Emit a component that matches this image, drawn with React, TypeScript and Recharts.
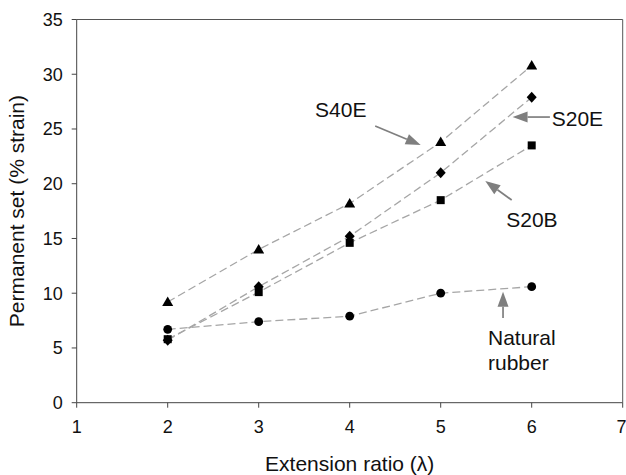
import React from "react";
import {
  LineChart,
  Line,
  XAxis,
  YAxis,
  ReferenceLine,
  ReferenceDot,
} from "recharts";

// Extension ratio (λ) at each test point
const lambda = [2, 3, 4, 5, 6];

// Permanent set (% strain) per compound
const s40e = [9.2, 14.0, 18.2, 23.8, 30.8];
const s20e = [5.7, 10.6, 15.2, 21.0, 27.9];
const s20b = [5.8, 10.1, 14.6, 18.5, 23.5];
const naturalRubber = [6.7, 7.4, 7.9, 10.0, 10.6];

const xTicks = [1, 2, 3, 4, 5, 6, 7];
const yTicks = [0, 5, 10, 15, 20, 25, 30, 35];

const data = lambda.map((l, i) => ({
  lambda: l,
  s40e: s40e[i],
  s20e: s20e[i],
  s20b: s20b[i],
  nr: naturalRubber[i],
}));

const FONT = "Liberation Sans, Arial, sans-serif";
const LINE_COLOR = "#a6a6a6";
const ARROW_COLOR = "#7f7f7f";

type Shape = "triangle" | "diamond" | "square" | "circle";

const makeDot = (shape: Shape) => (props: any) => {
  const { cx, cy, index } = props;
  if (cx == null || cy == null) return <g key={index} />;
  const k = `${shape}-${index}`;
  switch (shape) {
    case "triangle":
      return (
        <polygon
          key={k}
          points={`${cx},${cy - 5.5} ${cx + 5.5},${cy + 4} ${cx - 5.5},${cy + 4}`}
          fill="#000"
        />
      );
    case "diamond":
      return (
        <polygon
          key={k}
          points={`${cx},${cy - 5.5} ${cx + 5},${cy} ${cx},${cy + 5.5} ${cx - 5},${cy}`}
          fill="#000"
        />
      );
    case "square":
      return <rect key={k} x={cx - 4} y={cy - 4} width={8} height={8} fill="#000" />;
    default:
      return <circle key={k} cx={cx} cy={cy} r={4.4} fill="#000" />;
  }
};

// Grey annotation arrow: shaft plus a filled head at the segment end
const Arrow = (props: any) => {
  const { x1, y1, x2, y2 } = props;
  if ([x1, y1, x2, y2].some((v) => v == null || isNaN(v))) return null;
  const dx = x2 - x1;
  const dy = y2 - y1;
  const len = Math.sqrt(dx * dx + dy * dy) || 1;
  const ux = dx / len;
  const uy = dy / len;
  const headLen = 15;
  const headHalf = 5.5;
  const bx = x2 - ux * headLen;
  const by = y2 - uy * headLen;
  const px = -uy;
  const py = ux;
  return (
    <g>
      <line x1={x1} y1={y1} x2={bx} y2={by} stroke={ARROW_COLOR} strokeWidth={1.7} />
      <polygon
        points={`${x2},${y2} ${bx + px * headHalf},${by + py * headHalf} ${bx - px * headHalf},${by - py * headHalf}`}
        fill={ARROW_COLOR}
      />
    </g>
  );
};

const textShape = (lines: string[]) => (props: any) => {
  const { cx, cy } = props;
  if (cx == null || cy == null) return null;
  return (
    <text x={cx} y={cy} fontFamily={FONT} fontSize={21} fill="#111" textAnchor="start">
      {lines.map((t, i) => (
        <tspan key={i} x={cx} dy={i === 0 ? 0 : 25}>
          {t}
        </tspan>
      ))}
    </text>
  );
};

const annotations = [
  { text: ["S40E"], at: [3.62, 26.12], from: [4.28, 25.27], to: [4.78, 23.53] },
  { text: ["S20E"], at: [6.22, 25.27], from: [6.2, 26.09], to: [5.79, 26.09] },
  { text: ["S20B"], at: [5.72, 16.07], from: [5.78, 18.51], to: [5.49, 20.25] },
  { text: ["Natural", "rubber"], at: [5.52, 5.27], from: [5.685, 7.73], to: [5.685, 10.14] },
];

const series: { key: string; shape: Shape }[] = [
  { key: "nr", shape: "circle" },
  { key: "s20b", shape: "square" },
  { key: "s20e", shape: "diamond" },
  { key: "s40e", shape: "triangle" },
];

export default function App() {
  return (
    <div style={{ position: "absolute", left: 0, top: 0, background: "#fff" }}>
      <LineChart
        width={626}
        height={475}
        data={data}
        margin={{ top: 19.5, right: 3.3, left: 0, bottom: 27.3 }}
      >
        <XAxis
          dataKey="lambda"
          type="number"
          domain={[1, 7]}
          ticks={xTicks}
          allowDataOverflow
          stroke="#444"
          tickSize={5}
          tickMargin={13}
          height={45}
          tick={{ fontFamily: FONT, fontSize: 18, fill: "#111" }}
          label={{
            value: "Extension ratio (λ)",
            position: "insideBottom",
            offset: -23,
            style: { fontFamily: FONT, fontSize: 21, fill: "#111", textAnchor: "middle" },
          }}
        />
        <YAxis
          type="number"
          domain={[0, 35]}
          ticks={yTicks}
          allowDataOverflow
          stroke="#444"
          width={76.7}
          tickSize={5}
          tickMargin={9}
          tick={{ fontFamily: FONT, fontSize: 18, fill: "#111" }}
          label={{
            value: "Permanent set (% strain)",
            angle: -90,
            position: "insideLeft",
            offset: 17,
            style: { fontFamily: FONT, fontSize: 21, fill: "#111", textAnchor: "middle" },
          }}
        />
        <ReferenceLine y={35} stroke="#555" strokeWidth={1} />
        <ReferenceLine x={7} stroke="#555" strokeWidth={1} />
        {series.map((s) => (
          <Line
            key={s.key}
            dataKey={s.key}
            type="linear"
            stroke={LINE_COLOR}
            strokeWidth={1.3}
            strokeDasharray="8 4"
            dot={makeDot(s.shape)}
            activeDot={false}
            isAnimationActive={false}
          />
        ))}
        {annotations.map((a, i) => (
          <ReferenceLine
            key={`arrow-${i}`}
            segment={[
              { x: a.from[0], y: a.from[1] },
              { x: a.to[0], y: a.to[1] },
            ]}
            shape={Arrow}
            ifOverflow="visible"
          />
        ))}
        {annotations.map((a, i) => (
          <ReferenceDot
            key={`label-${i}`}
            x={a.at[0]}
            y={a.at[1]}
            r={0}
            shape={textShape(a.text)}
            ifOverflow="visible"
          />
        ))}
      </LineChart>
    </div>
  );
}
